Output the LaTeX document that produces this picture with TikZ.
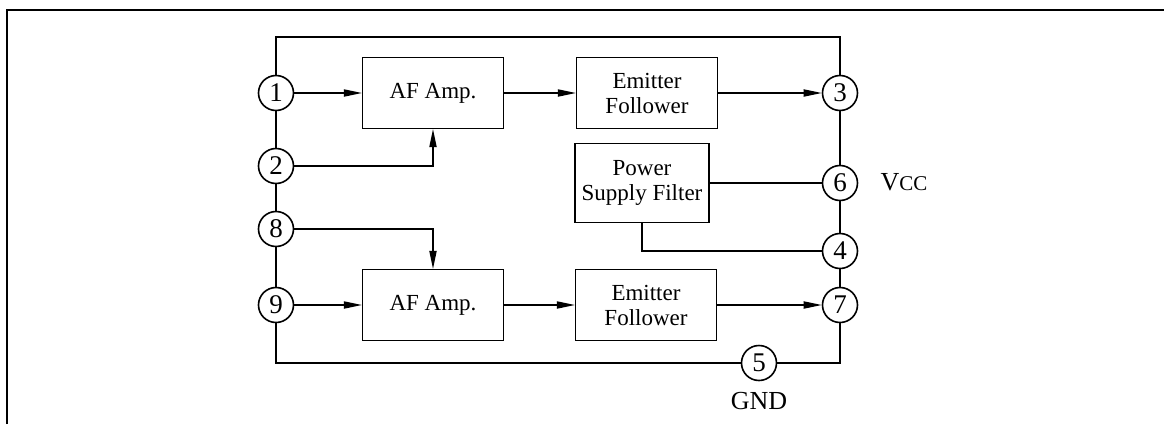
\documentclass[tikz,border=0pt]{standalone}
\usepackage{fontspec}
\setmainfont{Liberation Serif}
\usepackage{tikz}
\usetikzlibrary{arrows.meta,positioning}

\begin{document}
\begin{tikzpicture}[x=0.5pt, y=-0.5pt, font=\fontsize{11.5}{12.5}\selectfont,
      pin/.style={circle, draw, thick, minimum size=17.5pt, inner sep=0pt,
        font=\fontsize{13.5}{14}\selectfont},
      label/.style={font=\fontsize{13}{14}\selectfont},
      block/.style={draw, semithick, align=center, minimum width=70.5pt, minimum height=35.5pt},
      arrow/.style={-{Triangle[length=9pt, width=3.6pt]}, semithick},
      wire/.style={semithick}]
    \useasboundingbox (0,0) rectangle (1164,424);
    % page frame
    \draw[thick] (7,424) -- (7,10) -- (1164,10);
    % package pins
    \node[pin] (p1) at (276,93) {1};
    \node[pin] (p2) at (276,166) {2};
    \node[pin] (p8) at (276,229) {8};
    \node[pin] (p9) at (276,305) {9};
    \node[pin] (p3) at (840,93) {3};
    \node[pin] (p6) at (840,183) {6};
    \node[pin] (p4) at (840,251) {4};
    \node[pin] (p7) at (840,305) {7};
    \node[pin] (p5) at (759,363) {5};
    \node[label] (vcc) at (904,182) {V{\fontsize{10.5}{11}\selectfont CC}};
    \node[label] (gnd) at (759,401) {GND};
    % chip outline
    \coordinate (tl) at (276,37);
    \coordinate (tr) at (840,37);
    \coordinate (bl) at (276,363);
    \coordinate (br) at (840,363);
    \draw[thick] (p1) -- (tl) -- (tr) -- (p3);
    \draw[thick] (p1) -- (p2);
    \draw[thick] (p2) -- (p8);
    \draw[thick] (p8) -- (p9);
    \draw[thick] (p9) -- (bl) -- (p5);
    \draw[thick] (p5) -- (br) -- (p7);
    \draw[thick] (p7) -- (p4);
    \draw[thick] (p4) -- (p6);
    \draw[thick] (p6) -- (p3);
    % blocks
    \node[block] (amp1) at (433,93) {AF Amp.};
    \node[block] (ef1) at (647,93) {Emitter\\Follower};
    \node[block, minimum width=65pt, minimum height=39.5pt] (psf) at (642,183)
      {Power\\Supply Filter};
    \node[block] (amp2) at (433,305) {AF Amp.};
    \node[block] (ef2) at (646,305) {Emitter\\Follower};
    % signal paths
    \draw[arrow] (p1) -- (amp1);
    \draw[arrow] (p2) -| (amp1);
    \draw[arrow] (amp1) -- (ef1);
    \draw[arrow] (ef1) -- (p3);
    \draw[arrow] (p8) -| (amp2);
    \draw[arrow] (p9) -- (amp2);
    \draw[arrow] (amp2) -- (ef2);
    \draw[arrow] (ef2) -- (p7);
    % supply
    \draw[wire] (psf) -- (p6);
    \draw[wire] (psf) |- (p4);
  \end{tikzpicture}
\end{document}
